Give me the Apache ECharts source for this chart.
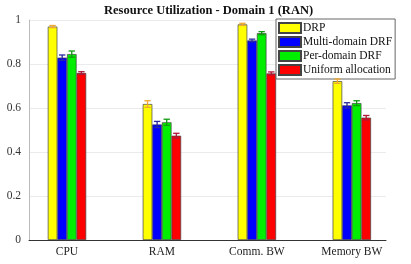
<!DOCTYPE html>
<html><head><meta charset="utf-8">
<script src="https://cdn.jsdelivr.net/npm/echarts@6/dist/echarts.min.js"></script>
<style>html,body{margin:0;padding:0;background:#fff}#c{width:411px;height:264px}</style>
</head><body><div id="c"></div>
<script>
const categories = ['CPU', 'RAM', 'Comm. BW', 'Memory BW'];
const seriesNames = ['DRP', 'Multi-domain DRF', 'Per-domain DRF', 'Uniform allocation'];
const drp = [0.970, 0.618, 0.980, 0.722];
const multiDRF = [0.829, 0.525, 0.907, 0.612];
const perDRF = [0.845, 0.535, 0.940, 0.622];
const uniform = [0.759, 0.474, 0.757, 0.556];
const drpErr = [0.005, 0.015, 0.005, 0.010];
const multiErr = [0.012, 0.014, 0.006, 0.012];
const perErr = [0.014, 0.014, 0.007, 0.011];
const uniformErr = [0.006, 0.011, 0.007, 0.010];
const yTicks = [0, 0.2, 0.4, 0.6, 0.8, 1];

const values = [drp, multiDRF, perDRF, uniform];
const errs = [drpErr, multiErr, perErr, uniformErr];
const colors = ['#ffff00', '#0000ff', '#00ee00', '#ff0000'];
const errColors = ['#f0a830', '#2a2aa0', '#109a10', '#b01838'];
const barW = 9.6;
const font = 'Liberation Serif';

const chart = echarts.init(document.getElementById('c'), null, {renderer: 'canvas'});
const series = [];
values.forEach((vals, i) => {
  series.push({
    name: seriesNames[i], type: 'bar', xAxisIndex: 0, yAxisIndex: 0,
    barWidth: barW, barGap: '0%',
    itemStyle: {color: colors[i], borderColor: '#444', borderWidth: 0.7},
    data: vals.map((v, k) => [k + 1, v]),
    z: 2, animation: false
  });
});
values.forEach((vals, i) => {
  series.push({
    type: 'custom', name: seriesNames[i] + ' err', xAxisIndex: 0, yAxisIndex: 0,
    data: vals.map((v, k) => [k + 1, v, errs[i][k]]),
    z: 5, silent: true, animation: false,
    renderItem: function (params, api) {
      const x = api.value(0), v = api.value(1), e = api.value(2);
      const top = api.coord([x, v + e]);
      const bot = api.coord([x, v - e]);
      const off = (i - 1.5) * barW;
      const cx = top[0] + off;
      const hw = 3.2;
      const st = {stroke: errColors[i], lineWidth: 1.3};
      return {type: 'group', children: [
        {type: 'line', shape: {x1: cx, y1: top[1], x2: cx, y2: bot[1]}, style: st},
        {type: 'line', shape: {x1: cx - hw, y1: top[1], x2: cx + hw, y2: top[1]}, style: st},
        {type: 'line', shape: {x1: cx - hw, y1: bot[1], x2: cx + hw, y2: bot[1]}, style: st}
      ]};
    }
  });
});

chart.setOption({
  animation: false,
  title: {text: 'Resource Utilization - Domain 1 (RAN)', left: 104, top: 4, padding: 0,
    textStyle: {fontFamily: font, fontWeight: 'bold', fontSize: 12.5, color: '#111'}},
  grid: {left: 29, right: 25, top: 20, bottom: 24, containLabel: false},
  legend: {
    data: seriesNames, orient: 'vertical', left: 276, top: 19,
    itemWidth: 22, itemHeight: 10, itemGap: 2,
    padding: [3, 3, 3, 2],
    backgroundColor: '#fff', borderColor: '#666', borderWidth: 1,
    textStyle: {fontFamily: font, fontSize: 11.5, color: '#111', padding: [0, 0, 0, -3]},
    icon: 'rect'
  },
  xAxis: [{
    type: 'value', min: 0.6, max: 4.36,
    axisLine: {show: true, onZero: false, lineStyle: {color: '#333', width: 1}},
    axisTick: {show: false},
    splitLine: {show: false},
    axisLabel: {customValues: [1, 2, 3, 4], formatter: v => categories[Math.round(v) - 1] || '',
      fontFamily: font, fontSize: 11.5, color: '#222', margin: 6}
  }],
  yAxis: [{
    type: 'value', min: 0, max: 1, interval: 0.2,
    axisLine: {show: true, lineStyle: {color: '#bbb', width: 1}},
    axisTick: {show: false},
    splitLine: {show: true, lineStyle: {color: '#ebebeb', width: 1}},
    axisLabel: {customValues: yTicks, formatter: v => String(Math.round(v * 10) / 10),
      fontFamily: font, fontSize: 11.5, color: '#333', margin: 8}
  }],
  series: series
});
</script></body></html>
